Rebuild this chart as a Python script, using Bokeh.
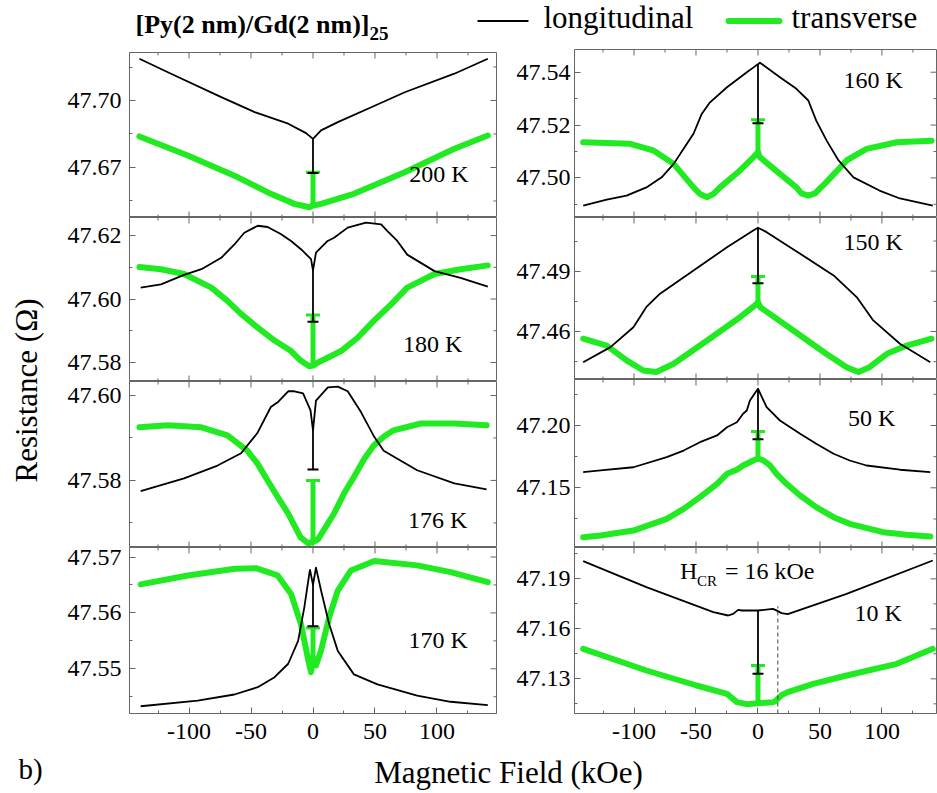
import numpy as np
from bokeh.plotting import figure
from bokeh.layouts import column, row
from bokeh.models import FixedTicker, PrintfTickFormatter, Range1d, LinearAxis, Label
from bokeh.embed import file_html
from bokeh.resources import INLINE

# ---------------- data ----------------
# field in kOe (H) and resistance in Ohm (R); L = longitudinal, T = transverse
L200_H = [-140, -114.5, -74, -47, -20, -5.6, 0, 6.5, 20, 47, 74, 114, 141]
L200_R = [47.7187, 47.7120, 47.7015, 47.6948, 47.6896, 47.6854, 47.6828, 47.6866, 47.6903, 47.6970, 47.7037, 47.7120, 47.7187]
T200_H = [-140, -101, -61, -34, -15, -3, 0, 6.5, 33, 74, 114, 141]
T200_R = [47.6839, 47.6754, 47.6657, 47.6582, 47.6537, 47.6522, 47.6530, 47.6537, 47.6582, 47.6679, 47.6784, 47.6843]

L180_H = [-139, -122.6, -104, -90, -74, -63.4, -55.4, -44.6, -36.6, -26, -17.7, -9.7, -1.6, 0, 2.4, 11.8, 17, 28, 42.7, 55, 60, 68, 76, 87, 98, 119, 141]
L180_R = [47.6036, 47.6046, 47.6076, 47.6094, 47.6130, 47.6172, 47.6209, 47.6231, 47.6227, 47.6205, 47.6183, 47.6157, 47.6126, 47.6090, 47.6146, 47.6183, 47.6193, 47.6225, 47.6241, 47.6235, 47.6214, 47.6183, 47.6140, 47.6114, 47.6088, 47.6067, 47.6039]
T180_H = [-140, -122.6, -104, -82, -69, -58, -44.6, -31, -17.7, -10, -3, 0, 4, 11.8, 22.6, 36, 49, 63, 76, 98, 119, 141]
T180_R = [47.6101, 47.6094, 47.6079, 47.6036, 47.5994, 47.5953, 47.5910, 47.5869, 47.5836, 47.5806, 47.5788, 47.5790, 47.5800, 47.5815, 47.5836, 47.5878, 47.5931, 47.5983, 47.6036, 47.6079, 47.6094, 47.6106]

L176_H = [-139, -104, -77, -58, -45, -34, -28.5, -20, -15, -8, -2, 0, 2.4, 12, 20, 28, 38.7, 49.5, 57, 84, 114, 140]
L176_R = [47.5775, 47.5805, 47.5835, 47.5864, 47.5911, 47.5973, 47.5984, 47.6010, 47.6010, 47.6005, 47.5965, 47.5918, 47.5988, 47.6019, 47.6021, 47.6010, 47.5961, 47.5902, 47.5870, 47.5824, 47.5793, 47.5779]
T176_H = [-140, -117, -90, -69, -53, -44.6, -36.6, -28.5, -20, -10, -4, 0, 4, 17, 25, 33, 41.4, 49, 57.5, 65, 87, 114, 140]
T176_R = [47.5925, 47.5930, 47.5925, 47.5906, 47.5870, 47.5839, 47.5800, 47.5761, 47.5722, 47.5666, 47.5652, 47.5655, 47.5661, 47.5722, 47.5769, 47.5808, 47.5851, 47.5882, 47.5904, 47.5918, 47.5934, 47.5934, 47.5930]

L170_H = [-139, -93, -63.4, -44.6, -31, -20, -12, -7, -3, -2.4, 0, 2.4, 6.5, 13, 20, 33, 52, 84, 111, 141]
L170_R = [47.5433, 47.5443, 47.5454, 47.5467, 47.5485, 47.5509, 47.5550, 47.5610, 47.5670, 47.5677, 47.5650, 47.5681, 47.5640, 47.5580, 47.5532, 47.5490, 47.5472, 47.5452, 47.5441, 47.5435]
T170_H = [-139, -101, -63, -46, -28.5, -17.7, -9.7, -4.3, -1.6, 0, 2.4, 6.5, 13, 20, 30.6, 49.5, 84, 111, 141]
T170_R = [47.5651, 47.5667, 47.5679, 47.5680, 47.5667, 47.5634, 47.5580, 47.5521, 47.5494, 47.5520, 47.5506, 47.5533, 47.5592, 47.5640, 47.5676, 47.5693, 47.5685, 47.5673, 47.5655]

L160_H = [-141, -122, -106, -90, -77.7, -68, -60, -52, -45.4, -38.7, -25, -9, -1.6, 0, 1.6, 17.7, 31, 40.6, 47, 55.4, 65, 77, 98, 114.5, 141]
L160_R = [47.4895, 47.4918, 47.4933, 47.4964, 47.5002, 47.5053, 47.5110, 47.5167, 47.5242, 47.5286, 47.5343, 47.5400, 47.5425, 47.5430, 47.5436, 47.5381, 47.5337, 47.5293, 47.5217, 47.5141, 47.5066, 47.5002, 47.4952, 47.4922, 47.4895]
T160_H = [-141, -103, -84, -68, -52, -46.8, -41, -36, -30.6, -14.5, -3.8, 0, 1.6, 17.7, 31, 35, 40.6, 46, 55, 71.5, 87.6, 112, 140]
T160_R = [47.5135, 47.5129, 47.5103, 47.5053, 47.4964, 47.4939, 47.4927, 47.4939, 47.4964, 47.5028, 47.5078, 47.5097, 47.5078, 47.5015, 47.4964, 47.4941, 47.4933, 47.4941, 47.4983, 47.5066, 47.5110, 47.5135, 47.5141]

L150_H = [-141, -119, -100.5, -90, -79, -52, -25, -3.8, 0, 7, 34, 61, 79.6, 93, 114.5, 139]
L150_R = [47.4447, 47.4522, 47.4621, 47.4722, 47.4788, 47.4903, 47.5019, 47.5102, 47.5116, 47.5094, 47.4987, 47.4879, 47.4771, 47.4655, 47.4539, 47.4447]
T150_H = [-141, -122, -106, -92.5, -82, -68, -41, -14.5, -2.4, 0, 2, 28.5, 55, 71.5, 81, 90, 104, 120, 140]
T150_R = [47.4564, 47.4530, 47.4456, 47.4406, 47.4398, 47.4439, 47.4555, 47.4671, 47.4730, 47.4745, 47.4720, 47.4605, 47.4489, 47.4422, 47.4398, 47.4422, 47.4489, 47.4530, 47.4564]

L50_H = [-141, -127, -100.5, -73.6, -60, -46.8, -33, -25, -17, -12, -9, -6.5, 0, 7, 17.7, 34, 47, 61, 74, 87.6, 114.5, 139]
L50_R = [47.1625, 47.1639, 47.1665, 47.1746, 47.1799, 47.1866, 47.1920, 47.1986, 47.2026, 47.2094, 47.2120, 47.2201, 47.2295, 47.2147, 47.2040, 47.1933, 47.1853, 47.1773, 47.1719, 47.1679, 47.1645, 47.1625]
T50_H = [-141, -127, -100.5, -73.6, -60, -46.8, -33, -25, -17, -12, -3.8, 0, 4.5, 9.7, 15, 23, 34, 47, 61, 74, 101, 120, 139]
T50_R = [47.1104, 47.1117, 47.1157, 47.1251, 47.1331, 47.1425, 47.1532, 47.1612, 47.1645, 47.1679, 47.1719, 47.1735, 47.1719, 47.1679, 47.1612, 47.1532, 47.1438, 47.1345, 47.1264, 47.1211, 47.1144, 47.1123, 47.1109]

L10_H = [-141, -90, -36, -24, -20, -16, -13, 0, 12, 14, 19, 24, 71.5, 141]
L10_R = [47.2006, 47.1850, 47.1700, 47.1680, 47.1690, 47.1714, 47.1710, 47.1710, 47.1720, 47.1714, 47.1694, 47.1688, 47.1810, 47.2010]
T10_H = [-141, -90, -49.5, -25, -17, -9, 0, 12, 14, 19, 24, 44.6, 71.5, 112, 141]
T10_R = [47.1480, 47.1350, 47.1260, 47.1210, 47.1160, 47.1148, 47.1154, 47.1160, 47.1166, 47.1202, 47.1220, 47.1270, 47.1320, 47.1390, 47.1480]

TEMPS = [200, 180, 176, 170, 160, 150, 50, 10]
# zero-field jump end points (error-bar caps)
JUMP_L = [47.6675, 47.5928, 47.5826, 47.5576, 47.5207, 47.4840, 47.1890, 47.1330]
JUMP_T = [47.6679, 47.5950, 47.5800, 47.5573, 47.5220, 47.4874, 47.1952, 47.1380]
HCR = 16  # kOe, critical field at 10 K

Y_TICKS = [
    [47.67, 47.70],
    [47.58, 47.60, 47.62],
    [47.58, 47.60],
    [47.55, 47.56, 47.57],
    [47.50, 47.52, 47.54],
    [47.46, 47.49],
    [47.15, 47.20],
    [47.13, 47.16, 47.19],
]
X_TICKS = [-150, -100, -50, 0, 50, 100, 150]
X_MINOR = [-125, -75, -25, 25, 75, 125]

CURVES = [
    (L200_H, L200_R, T200_H, T200_R),
    (L180_H, L180_R, T180_H, T180_R),
    (L176_H, L176_R, T176_H, T176_R),
    (L170_H, L170_R, T170_H, T170_R),
    (L160_H, L160_R, T160_H, T160_R),
    (L150_H, L150_R, T150_H, T150_R),
    (L50_H, L50_R, T50_H, T50_R),
    (L10_H, L10_R, T10_H, T10_R),
]

# ---------------- layout / style ----------------
FONT = "Liberation Serif"
GREEN = "#22ea22"
FRAME = "#666666"

Y_RANGES = [
    (47.6476, 47.7215), (47.5740, 47.6257), (47.5642, 47.6033), (47.5420, 47.5717),
    (47.4850, 47.5486), (47.4361, 47.5167), (47.1021, 47.2369), (47.1092, 47.2088),
]
# panel-label anchor (field, resistance)
LABEL_POS = [
    (101.6, 47.6664), (96.5, 47.5852), (100.6, 47.5702), (101.0, 47.5548),
    (93.0, 47.5362), (93.0, 47.5036), (91.7, 47.2046), (97.0, 47.1686),
]
BOTTOM_BORDER = 38
LEFT_H = [168, 164, 166, 166 + BOTTOM_BORDER]
RIGHT_H = [168, 162, 168, 166 + BOTTOM_BORDER]


def minor_of(major):
    d = major[1] - major[0]
    return [major[0] + d * (k - 4) / 2.0 for k in range(2 * len(major) + 8) if k % 2 == 1]


def style_axis(ax, standoff):
    ax.axis_line_color = FRAME
    ax.major_tick_line_color = FRAME
    ax.minor_tick_line_color = FRAME
    ax.major_tick_in = 6
    ax.major_tick_out = 0
    ax.minor_tick_in = 3
    ax.minor_tick_out = 0
    ax.major_label_text_font = FONT
    ax.major_label_text_font_size = "24px"
    ax.major_label_text_color = "black"
    ax.major_label_standoff = standoff


def edge_ticks(p, xs, ys, size, vertical):
    # inward tick marks on the frame edges without labels (half of each dash is clipped)
    p.scatter(x=xs, y=ys, marker="dash", size=size, angle=np.pi / 2 if vertical else 0,
              line_color=FRAME, line_width=1)


def make_panel(i, width, height, x_end, left_b, right_b, top_b, bottom, lab_standoff):
    y0, y1 = Y_RANGES[i]
    p = figure(width=width, height=height, output_backend="svg", toolbar_location=None,
               x_range=Range1d(-148, x_end), y_range=Range1d(y0, y1),
               x_axis_type=None, y_axis_type=None,
               min_border_left=left_b, min_border_right=right_b,
               min_border_top=top_b, min_border_bottom=BOTTOM_BORDER if bottom else 0)
    p.outline_line_color = FRAME
    p.background_fill_color = "white"
    p.border_fill_color = "white"

    ymaj = Y_TICKS[i]
    ymin = minor_of(ymaj)
    ax_l = LinearAxis(ticker=FixedTicker(ticks=ymaj, minor_ticks=ymin),
                      formatter=PrintfTickFormatter(format="%.2f"))
    style_axis(ax_l, lab_standoff)
    p.add_layout(ax_l, "left")

    if bottom:
        ax_b = LinearAxis(ticker=FixedTicker(ticks=X_TICKS, minor_ticks=X_MINOR),
                          formatter=PrintfTickFormatter(format="%d"))
        style_axis(ax_b, 10)
        p.add_layout(ax_b, "below")
    else:
        edge_ticks(p, X_TICKS, [y0] * len(X_TICKS), 12, True)
        edge_ticks(p, X_MINOR, [y0] * len(X_MINOR), 6, True)
    edge_ticks(p, X_TICKS, [y1] * len(X_TICKS), 12, True)
    edge_ticks(p, X_MINOR, [y1] * len(X_MINOR), 6, True)
    edge_ticks(p, [x_end] * len(ymaj), ymaj, 12, False)
    edge_ticks(p, [x_end] * len(ymin), ymin, 6, False)

    lh, lr, th, tr = CURVES[i]
    # transverse (green) first
    p.line(th, tr, line_color=GREEN, line_width=6, line_cap="round", line_join="round")
    z_t = float(np.interp(0, th, tr))
    p.segment(x0=[0], y0=[z_t], x1=[0], y1=[JUMP_T[i]], line_color=GREEN, line_width=5)
    p.scatter(x=[0], y=[JUMP_T[i]], marker="dash", size=14, line_color=GREEN, line_width=3)
    # longitudinal (black)
    p.line(lh, lr, line_color="black", line_width=1.8, line_join="round")
    z_l = float(np.interp(0, lh, lr))
    p.segment(x0=[0], y0=[z_l], x1=[0], y1=[JUMP_L[i]], line_color="black", line_width=1.8)
    p.scatter(x=[0], y=[JUMP_L[i]], marker="dash", size=11, line_color="black", line_width=2)

    lx, ly = LABEL_POS[i]
    p.add_layout(Label(x=lx, y=ly, y_offset=2, text=f"{TEMPS[i]} K", text_font=FONT,
                       text_font_size="24px", text_align="center",
                       text_baseline="middle", text_color="black"))
    return p


left_figs = [make_panel(k, 440, LEFT_H[k], 148, 69, 4, 3 if k == 0 else 0, k == 3, 8)
             for k in range(4)]
right_figs = [make_panel(4 + k, 437, RIGHT_H[k], 144, 74, 1, 0, k == 3, 4)
              for k in range(4)]

# H_CR annotation in the 10 K panel
p10 = right_figs[3]
y_lo = Y_RANGES[7][0]
p10.segment(x0=[HCR], y0=[y_lo], x1=[HCR], y1=[float(np.interp(HCR, L10_H, L10_R)) + 0.003],
            line_color="#444444", line_width=1, line_dash="4 3")
hx, hy = -62.9, 47.1947
p10.add_layout(Label(x=hx, y=hy, text="H", text_font=FONT, text_font_size="24px",
                     text_baseline="middle", text_color="black"))
p10.add_layout(Label(x=hx, y=hy, x_offset=17, y_offset=-10, text="CR", text_font=FONT,
                     text_font_size="15px", text_baseline="middle", text_color="black"))
p10.add_layout(Label(x=hx, y=hy, x_offset=45, text="= 16 kOe", text_font=FONT,
                     text_font_size="24px", text_baseline="middle", text_color="black"))


def blank(width, height):
    f = figure(width=width, height=height, output_backend="svg", toolbar_location=None,
               x_range=Range1d(0, width), y_range=Range1d(height, 0),
               x_axis_type=None, y_axis_type=None, min_border=0)
    f.outline_line_color = None
    f.background_fill_color = "white"
    f.border_fill_color = "white"
    return f


HEADER_H = 49
ROW_H = sum(LEFT_H)
FOOTER_H = 793 - HEADER_H - ROW_H

# header: title + legend
header = blank(937, HEADER_H)
header.add_layout(Label(x=135, y=24, text="[Py(2 nm)/Gd(2 nm)]", text_font=FONT,
                        text_font_size="26px", text_font_style="bold",
                        text_baseline="middle", text_color="black"))
header.add_layout(Label(x=369, y=33, text="25", text_font=FONT, text_font_size="19px",
                        text_font_style="bold", text_baseline="middle",
                        text_color="black"))
header.line([477, 528], [20.5, 20.5], line_color="black", line_width=2)
header.add_layout(Label(x=543, y=17, text="longitudinal", text_font=FONT,
                        text_font_size="31px", text_baseline="middle",
                        text_color="black"))
header.line([728, 779], [20.5, 20.5], line_color=GREEN, line_width=6, line_cap="round")
header.add_layout(Label(x=791, y=17, text="transverse", text_font=FONT,
                        text_font_size="31px", text_baseline="middle",
                        text_color="black"))

# y-axis title
ylab = blank(60, ROW_H)
ylab.add_layout(Label(x=26, y=390 - HEADER_H, text="Resistance (\u03a9)", text_font=FONT,
                      text_font_size="31px", text_align="center", text_baseline="middle",
                      angle=np.pi / 2, text_color="black"))

# footer: x-axis title and panel letter
foot_top = HEADER_H + ROW_H
footer = blank(937, FOOTER_H)
footer.add_layout(Label(x=18, y=768 - foot_top, text="b)", text_font=FONT,
                        text_font_size="29px", text_baseline="middle", text_color="black"))
footer.add_layout(Label(x=508, y=772 - foot_top, text="Magnetic Field (kOe)",
                        text_font=FONT, text_font_size="31px", text_align="center",
                        text_baseline="middle", text_color="black"))

layout = column(header,
                row(ylab, column(*left_figs, spacing=0), column(*right_figs, spacing=0),
                    spacing=0),
                footer, spacing=0)

open("out.html", "w").write(file_html(layout, INLINE))
